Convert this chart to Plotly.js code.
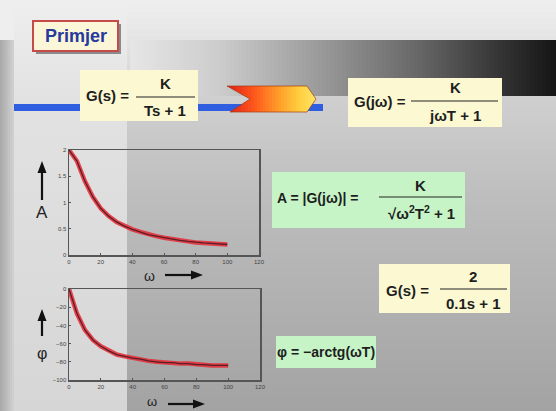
<!DOCTYPE html>
<html>
<head>
<meta charset="utf-8">
<script src="https://cdn.plot.ly/plotly-3.0.1.min.js"></script>
<style>html,body{margin:0;padding:0;background:#c0c0c0;}#chart{width:556px;height:411px;}</style>
</head>
<body>
<div id="chart"></div>
<script>
// ---- data ----
var omega = [0,5,10,15,20,25,30,35,40,45,50,55,60,65,70,75,80,85,90,95,100];
var amplitude = [2,1.79,1.41,1.11,0.89,0.74,0.63,0.55,0.49,0.44,0.39,0.36,0.33,0.30,0.28,0.26,0.24,0.23,0.22,0.21,0.20];
var phase = [0,-27,-45,-56,-63,-68,-72,-74,-76,-77,-79,-80,-81,-81,-82,-82,-83,-83,-84,-84,-84];
var xTicks = [0,20,40,60,80,100,120];
var ampTicks = [0,0.5,1,1.5,2];
var ampTickText = ['0','0.5','1','1.5','2'];
var phaseTicks = [-100,-80,-60,-40,-20,0];

var W = 556, H = 411;
function px(x){return x/W;}
function py(y){return 1-y/H;}
function hex(c){return [parseInt(c.substr(1,2),16),parseInt(c.substr(3,2),16),parseInt(c.substr(5,2),16)];}
function lerpStops(stops,t){
  for(var i=0;i<stops.length-1;i++){
    if(t<=stops[i+1][0]){
      var a=stops[i],b=stops[i+1];var f=(t-a[0])/(b[0]-a[0]||1);
      var ca=hex(a[1]),cb=hex(b[1]);
      return 'rgb('+Math.round(ca[0]+(cb[0]-ca[0])*f)+','+Math.round(ca[1]+(cb[1]-ca[1])*f)+','+Math.round(ca[2]+(cb[2]-ca[2])*f)+')';
    }
  }
  return stops[stops.length-1][1];
}
var shapes = [];
function rect(x0,y0,x1,y1,fill,line,lw,layer){
  shapes.push({type:'rect',xref:'paper',yref:'paper',x0:px(x0),x1:px(x1),y0:py(y1),y1:py(y0),
    fillcolor:fill,line:{color:line||'rgba(0,0,0,0)',width:lw||0},layer:layer||'below'});
}
function seg(x0,y0,x1,y1,color,w){
  shapes.push({type:'line',xref:'paper',yref:'paper',x0:px(x0),x1:px(x1),y0:py(y0),y1:py(y1),line:{color:color,width:w},layer:'above'});
}
function pathOf(pts){
  return 'M'+pts.map(function(p){return px(p[0])+','+py(p[1]);}).join('L')+'Z';
}
function tri(pts,color){
  shapes.push({type:'path',xref:'paper',yref:'paper',path:pathOf(pts),fillcolor:color,line:{width:0},layer:'above'});
}

// ---- background ----
var vStops=[[0,'#efefef'],[40,'#e4e4e4'],[100,'#cfcfcf'],[200,'#bdbdbd'],[411,'#a3a3a3']];
for(var y=0;y<411;y+=6){ rect(120,y,556,Math.min(y+6,411),lerpStops(vStops,y+3)); }
var cStops=[[0,'#efefef'],[100,'#e2e2e2'],[411,'#d6d6d6']];
for(var y=0;y<411;y+=8){ rect(14,y,127,Math.min(y+8,411),lerpStops(cStops,y+4)); }
var lStops=[[0,'#a8a8a8'],[14,'#d2d2d2']];
for(var x=0;x<14;x+=2){ rect(x,40,x+2,411,lerpStops(lStops,x+1)); }
rect(0,0,14,40,'#eeeeee');
var bStops=[[130,'#e6e6e6'],[220,'#cccccc'],[320,'#9a9a9a'],[420,'#666666'],[490,'#3a3a3a'],[556,'#151515']];
for(var x=130;x<556;x+=4){ rect(x,40,x+4,96,lerpStops(bStops,x+2)); }

// ---- Primjer box ----
rect(36,24,121,54,'#8a8a8a');
rect(33,21,118,51,'#fbf6d8','#c64a4a',2);

// ---- blue bar ----
rect(14,104,323,111,'#2f5fe0');

// ---- chevron with gradient ----
var chev=[[227,86],[307,86],[316,99],[307,112],[230,112],[250,99]];
function clipX(poly,a,keepGreater){
  var out=[];
  for(var i=0;i<poly.length;i++){
    var cur=poly[i],prev=poly[(i+poly.length-1)%poly.length];
    var inC=keepGreater?cur[0]>=a:cur[0]<=a, inP=keepGreater?prev[0]>=a:prev[0]<=a;
    if(inC){
      if(!inP){var t=(a-prev[0])/(cur[0]-prev[0]);out.push([a,prev[1]+t*(cur[1]-prev[1])]);}
      out.push(cur);
    } else if(inP){var t=(a-prev[0])/(cur[0]-prev[0]);out.push([a,prev[1]+t*(cur[1]-prev[1])]);}
  }
  return out;
}
var chStops=[[227,'#e01e1a'],[255,'#ff5a1c'],[280,'#ffa02a'],[300,'#ffd040'],[316,'#ffe468']];
for(var x=227;x<316;x+=3){
  var p=clipX(clipX(chev,x,true),x+3.3,false);
  if(p.length>2) shapes.push({type:'path',xref:'paper',yref:'paper',path:pathOf(p),fillcolor:lerpStops(chStops,x+1.5),line:{width:0},layer:'below'});
}
shapes.push({type:'path',xref:'paper',yref:'paper',path:pathOf(chev),fillcolor:'rgba(0,0,0,0)',line:{color:'rgba(160,60,20,0.7)',width:1},layer:'below'});

// ---- formula boxes ----
rect(80,70,198,121,'#fbf8d2');
rect(348,78,502,127,'#fbf8d2');
rect(272,172,465,228,'#c6f4c6');
rect(379,264,510,313,'#fbf8d2');
rect(276,336,376,368,'#c6f4c6');
seg(136,97,195,97,'#222',1.2);
seg(411,101,498,101,'#222',1.2);
seg(379,197,462,197,'#222',1.2);
seg(440,289,507,289,'#222',1.2);

// ---- axis arrows (shapes) ----
seg(42,200,42,172,'#111',2.2); tri([[37.5,173],[46.5,173],[42,161]],'#111');
seg(42,336,42,320,'#111',2.2); tri([[37.5,321],[46.5,321],[42,309]],'#111');
seg(165,275,192,275,'#111',2.2); tri([[191,270.5],[191,279.5],[203,275]],'#111');
seg(168,404,194,404,'#111',2.2); tri([[193,399.5],[193,408.5],[205,404]],'#111');

var FF='Liberation Sans, Arial, sans-serif';
var anns=[];
function txt(x,y,s,size,color,xa){
  anns.push({xref:'paper',yref:'paper',x:px(x),y:py(y),text:s,showarrow:false,xanchor:xa||'center',yanchor:'middle',
    font:{family:FF,size:size,color:color||'#1e1e1e'}});
}
txt(76,36,'<b>Primjer</b>',18,'#26399c');
txt(107,96,'<b>G(s) =</b>',15);
txt(165,84,'<b>K</b>',15);
txt(165,110,'<b>Ts + 1</b>',15);
txt(380,101,'<b>G(jω) =</b>',15);
txt(455,88,'<b>K</b>',15);
txt(455,115,'<b>jωT + 1</b>',15);
txt(275,198,'<b>A = |G(jω)| =</b>',14,null,'left');
txt(420,185,'<b>K</b>',15);
txt(421,212,'<b>√ω<sup>2</sup>T<sup>2</sup> + 1</b>',15);
txt(407,290,'<b>G(s) =</b>',15);
txt(473,276,'<b>2</b>',15);
txt(473,303,'<b>0.1s + 1</b>',15);
txt(326,352,'<b>φ = −arctg(ωT)</b>',14);

txt(42,212,'A',17,'#222');
txt(42,353,'φ',16,'#222');
txt(149,276,'ω',14,'#222');
txt(152,401,'ω',13,'#222');

// ---- traces ----
var traces=[
  {x:omega,y:amplitude,xaxis:'x',yaxis:'y',mode:'lines',line:{color:'rgba(232,40,52,0.85)',width:4.5},hoverinfo:'skip'},
  {x:omega,y:amplitude,xaxis:'x',yaxis:'y',mode:'lines',line:{color:'#5a1e26',width:1.3}},
  {x:omega,y:phase,xaxis:'x2',yaxis:'y2',mode:'lines',line:{color:'rgba(232,40,52,0.85)',width:4.5},hoverinfo:'skip'},
  {x:omega,y:phase,xaxis:'x2',yaxis:'y2',mode:'lines',line:{color:'#5a1e26',width:1.3}}
];
var axBase={showgrid:false,zeroline:false,showline:true,mirror:true,linecolor:'#555',linewidth:1.5,
  ticks:'inside',ticklen:2,tickcolor:'#555',tickfont:{family:FF,size:6,color:'#444'}};
function ax(extra){var o=JSON.parse(JSON.stringify(axBase));for(var k in extra)o[k]=extra[k];return o;}
var layout={
  width:W,height:H,margin:{l:0,r:0,t:0,b:0},showlegend:false,
  paper_bgcolor:'#c0c0c0',plot_bgcolor:'rgba(0,0,0,0)',
  xaxis:ax({domain:[px(69),px(259)],range:[0,120],tickvals:xTicks,anchor:'y'}),
  yaxis:ax({domain:[py(255),py(150)],range:[0,2],tickvals:ampTicks,ticktext:ampTickText,anchor:'x'}),
  xaxis2:ax({domain:[px(69),px(260)],range:[0,120],tickvals:xTicks,anchor:'y2'}),
  yaxis2:ax({domain:[py(380),py(289)],range:[-100,0],tickvals:phaseTicks,anchor:'x2'}),
  shapes:shapes,annotations:anns
};
Plotly.newPlot('chart',traces,layout,{displayModeBar:false,staticPlot:true});
</script>
</body>
</html>
